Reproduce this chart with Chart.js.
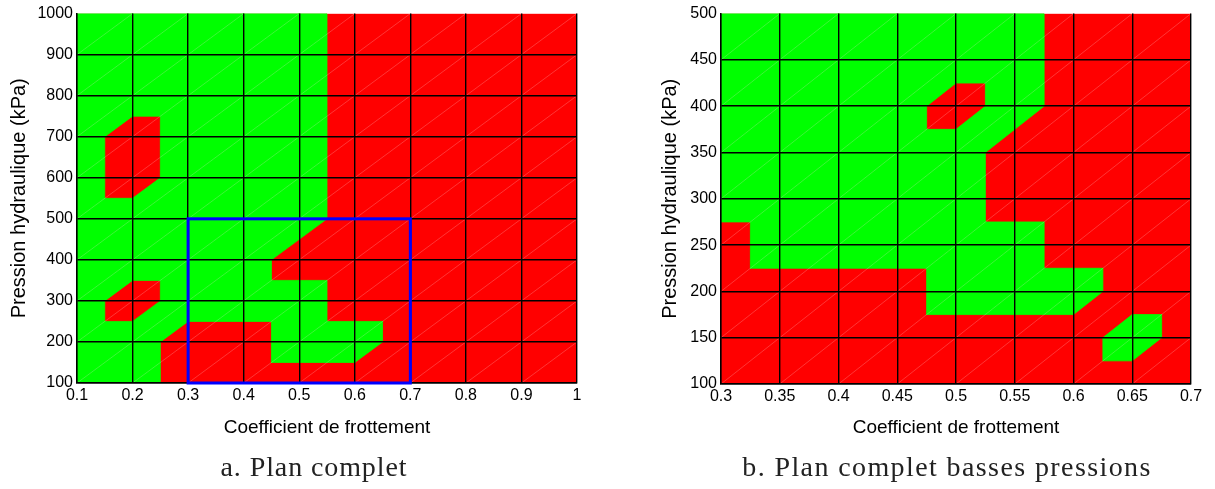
<!DOCTYPE html>
<html>
<head>
<meta charset="utf-8">
<script src="https://cdn.jsdelivr.net/npm/chart.js@4.4.1/dist/chart.umd.min.js"></script>
<style>
  body { margin: 0; background: #fff; width: 1215px; height: 489px; position: relative; overflow: hidden; }
  canvas { position: absolute; top: 0; }
  #planA { left: 0; }
  #planB { left: 600px; }
  .legende { position: absolute; top: 452px; font-family: "Liberation Serif", serif; font-size: 28px; line-height: 29px; letter-spacing: 0.9px; color: #222; white-space: nowrap; transform: translateX(-50%); }
</style>
</head>
<body>
<canvas id="planA" width="600" height="489"></canvas>
<canvas id="planB" width="615" height="489"></canvas>
<div class="legende" style="left:314px">a. Plan complet</div>
<div class="legende" style="left:947px; letter-spacing:1.4px">b. Plan complet basses pressions</div>
<script>
// plan complet : noeuds du plan
const frottA = [0.1, 0.2, 0.3, 0.4, 0.5, 0.6, 0.7, 0.8, 0.9, 1];
const pressionA = [100, 200, 300, 400, 500, 600, 700, 800, 900, 1000];
// 1 = vert, 0 = rouge ; une ligne par pression (du bas vers le haut)
const etatA = [
  [1, 1, 0, 0, 0, 0, 0, 0, 0, 0], // 100
  [1, 1, 0, 0, 1, 1, 0, 0, 0, 0], // 200
  [1, 0, 1, 1, 1, 0, 0, 0, 0, 0], // 300
  [1, 1, 1, 1, 0, 0, 0, 0, 0, 0], // 400
  [1, 1, 1, 1, 1, 0, 0, 0, 0, 0], // 500
  [1, 0, 1, 1, 1, 0, 0, 0, 0, 0], // 600
  [1, 0, 1, 1, 1, 0, 0, 0, 0, 0], // 700
  [1, 1, 1, 1, 1, 0, 0, 0, 0, 0], // 800
  [1, 1, 1, 1, 1, 0, 0, 0, 0, 0], // 900
  [1, 1, 1, 1, 1, 0, 0, 0, 0, 0]  // 1000
];
// zone du plan basses pressions (cadre bleu)
const zoneFrott = [0.3, 0.7];
const zonePression = [100, 500];

// plan basses pressions
const frottB = [0.3, 0.35, 0.4, 0.45, 0.5, 0.55, 0.6, 0.65, 0.7];
const pressionB = [100, 150, 200, 250, 300, 350, 400, 450, 500];
const etatB = [
  [0, 0, 0, 0, 0, 0, 0, 0, 0], // 100
  [0, 0, 0, 0, 0, 0, 0, 1, 0], // 150
  [0, 0, 0, 0, 1, 1, 1, 0, 0], // 200
  [0, 1, 1, 1, 1, 1, 0, 0, 0], // 250
  [1, 1, 1, 1, 1, 0, 0, 0, 0], // 300
  [1, 1, 1, 1, 1, 0, 0, 0, 0], // 350
  [1, 1, 1, 1, 0, 1, 0, 0, 0], // 400
  [1, 1, 1, 1, 1, 1, 0, 0, 0], // 450
  [1, 1, 1, 1, 1, 1, 0, 0, 0]  // 500
];

const VERT = "#00ff00";
const ROUGE = "#ff0000";
Chart.defaults.font.family = "Liberation Sans";
Chart.defaults.color = "#000";

// partie d'un triangle ou la valeur interpolee est >= 0.5
function partieVerte(tri) {
  const out = [];
  for (let k = 0; k < tri.length; k++) {
    const p = tri[k], q = tri[(k + 1) % tri.length];
    const inP = p[2] >= 0.5, inQ = q[2] >= 0.5;
    if (inP) out.push([p[0], p[1]]);
    if (inP !== inQ) {
      const t = (0.5 - p[2]) / (q[2] - p[2]);
      out.push([p[0] + t * (q[0] - p[0]), p[1] + t * (q[1] - p[1])]);
    }
  }
  return out;
}

function pluginCarte(frott, pression, etat, cadre) {
  return {
    id: "carte",
    beforeDraw(chart) {
      const { ctx, chartArea: a } = chart;
      const x = chart.scales.x, y = chart.scales.y;
      ctx.save();
      ctx.beginPath();
      ctx.rect(a.left, a.top, a.width, a.height);
      ctx.clip();
      ctx.fillStyle = ROUGE;
      ctx.fillRect(a.left, a.top, a.width, a.height);
      ctx.fillStyle = VERT;
      ctx.strokeStyle = VERT;
      ctx.lineWidth = 0.8;
      ctx.lineJoin = "round";
      for (let j = 0; j < pression.length - 1; j++) {
        for (let i = 0; i < frott.length - 1; i++) {
          const bl = [frott[i], pression[j], etat[j][i]];
          const br = [frott[i + 1], pression[j], etat[j][i + 1]];
          const tr = [frott[i + 1], pression[j + 1], etat[j + 1][i + 1]];
          const tl = [frott[i], pression[j + 1], etat[j + 1][i]];
          [[bl, br, tr], [bl, tr, tl]].forEach((tri) => {
            const poly = partieVerte(tri);
            if (poly.length < 3) return;
            ctx.beginPath();
            poly.forEach((p, k) => {
              const px = x.getPixelForValue(p[0]), py = y.getPixelForValue(p[1]);
              if (k) ctx.lineTo(px, py); else ctx.moveTo(px, py);
            });
            ctx.closePath();
            ctx.fill();
            ctx.stroke();
          });
        }
      }
      // fines diagonales du maillage
      ctx.strokeStyle = "rgba(255,255,255,0.35)";
      ctx.lineWidth = 0.6;
      ctx.beginPath();
      for (let j = 0; j < pression.length - 1; j++) {
        for (let i = 0; i < frott.length - 1; i++) {
          ctx.moveTo(x.getPixelForValue(frott[i]), y.getPixelForValue(pression[j]));
          ctx.lineTo(x.getPixelForValue(frott[i + 1]), y.getPixelForValue(pression[j + 1]));
        }
      }
      ctx.stroke();
      ctx.restore();
    },
    afterDraw(chart) {
      if (!cadre) return;
      const { ctx } = chart;
      const x = chart.scales.x, y = chart.scales.y;
      const x0 = x.getPixelForValue(cadre[0][0]), x1 = x.getPixelForValue(cadre[0][1]);
      const y0 = y.getPixelForValue(cadre[1][0]), y1 = y.getPixelForValue(cadre[1][1]);
      ctx.save();
      ctx.strokeStyle = "#0000ff";
      ctx.lineWidth = 3;
      ctx.strokeRect(x0, y1, x1 - x0, y0 - y1);
      ctx.restore();
    }
  };
}

function options(frott, pression, o) {
  const pMax = pression[pression.length - 1];
  return {
    responsive: false,
    animation: false,
    devicePixelRatio: 1,
    layout: { padding: { left: o.left, top: 11, right: o.right, bottom: 0 } },
    plugins: { legend: { display: false }, tooltip: { enabled: false } },
    scales: {
      x: {
        type: "linear",
        min: frott[0],
        max: frott[frott.length - 1],
        afterBuildTicks: (s) => { s.ticks = frott.map((v) => ({ value: v })); },
        afterFit: (s) => { s.height = o.hx; },
        grid: { color: "#000", lineWidth: 1.4, drawTicks: false },
        border: { display: true, color: "#000", width: 1.4 },
        ticks: { font: { size: 16 }, padding: 3, maxRotation: 0, autoSkip: false, callback: (v) => String(v) },
        title: { display: true, text: "Coefficient de frottement", font: { size: 19 }, padding: { top: 0, bottom: 50 } }
      },
      y: {
        type: "linear",
        min: pression[0],
        max: pMax,
        afterBuildTicks: (s) => { s.ticks = pression.map((v) => ({ value: v })); },
        afterFit: (s) => { s.width = o.wy; },
        grid: {
          color: (c) => (c.tick && c.tick.value === pMax ? "rgba(0,0,0,0)" : "#000"),
          lineWidth: 1.4,
          drawTicks: false
        },
        border: { display: true, color: "#000", width: 1.4 },
        ticks: { font: { size: 16 }, padding: 4, autoSkip: false, callback: (v) => String(v) },
        title: { display: true, text: "Pression hydraulique (kPa)", font: { size: 20 }, padding: { top: o.ty, bottom: 0 } }
      }
    }
  };
}

new Chart(document.getElementById("planA"), {
  type: "scatter",
  data: { datasets: [] },
  options: options(frottA, pressionA, { left: 0, right: 23, hx: 106, wy: 77, ty: 7.5 }),
  plugins: [pluginCarte(frottA, pressionA, etatA, [zoneFrott, zonePression])]
});

new Chart(document.getElementById("planB"), {
  type: "scatter",
  data: { datasets: [] },
  options: options(frottB, pressionB, { left: 50, right: 24, hx: 105, wy: 71, ty: 8.5 }),
  plugins: [pluginCarte(frottB, pressionB, etatB, null)]
});
</script>
</body>
</html>
